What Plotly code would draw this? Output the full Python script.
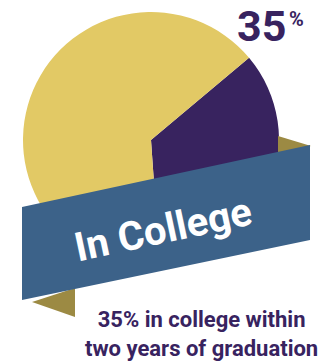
import plotly.graph_objects as go

W, H = 331, 363

# data
labels = ["In college", "Not in college"]
values = [35, 65]
colors = ["#38235F", "#E2C965"]
big_number = "35"
big_unit = "%"
banner_text = "In College"
caption = "35% in college within<br>two years of graduation"

def px(x):
    return x / W

def py(y):
    return 1 - y / H

cx, cy, r = 151, 140, 128

fig = go.Figure()
fig.add_trace(go.Pie(
    labels=labels, values=values,
    marker=dict(colors=colors, line=dict(width=0)),
    sort=False, direction="clockwise", rotation=50,
    textinfo="none", hoverinfo="label+percent", showlegend=False,
    domain=dict(x=[px(cx - r), px(cx + r)], y=[py(cy + r), py(cy - r)]),
))

def path(pts):
    s = "M " + " L ".join(f"{px(x)},{py(y)}" for x, y in pts) + " Z"
    return s

shapes = [
    dict(type="path", path=path([(278, 136), (311, 146), (278, 153)]),
         fillcolor="#9C8A43", line=dict(width=0), xref="paper", yref="paper", layer="above"),
    dict(type="path", path=path([(32, 302), (75, 317), (75, 288)]),
         fillcolor="#9C8A43", line=dict(width=0), xref="paper", yref="paper", layer="above"),
    dict(type="path", path=path([(22, 207), (310, 145), (310, 240), (22, 300)]),
         fillcolor="#3C6289", line=dict(width=0), xref="paper", yref="paper", layer="above"),
]

cond = "Roboto, sans-serif"
annotations = [
    dict(text=f"<b>{banner_text}</b>", x=px(163), y=py(229), xref="paper", yref="paper",
         showarrow=False, textangle=-12, font=dict(family=cond, size=40, color="white"),
         xanchor="center", yanchor="middle"),
    dict(text=f"<b>{big_number}</b>", x=px(287), y=py(26), xref="paper", yref="paper",
         showarrow=False, font=dict(family=cond, size=43, color="#38235F"),
         xanchor="right", yanchor="middle", borderpad=0),
    dict(text=f"<b>{big_unit}</b>", x=px(288), y=py(19), xref="paper", yref="paper",
         showarrow=False, font=dict(family=cond, size=20, color="#38235F"),
         xanchor="left", yanchor="middle", borderpad=0),
    dict(text=f"<b>{caption}</b>", x=px(201), y=py(334), xref="paper", yref="paper",
         showarrow=False, font=dict(family=cond, size=22, color="#38235F"),
         xanchor="center", yanchor="middle", align="center"),
]

fig.update_layout(width=W, height=H, margin=dict(l=0, r=0, t=0, b=0),
                  paper_bgcolor="white", plot_bgcolor="white",
                  shapes=shapes, annotations=annotations)
fig.write_html("out.html")
